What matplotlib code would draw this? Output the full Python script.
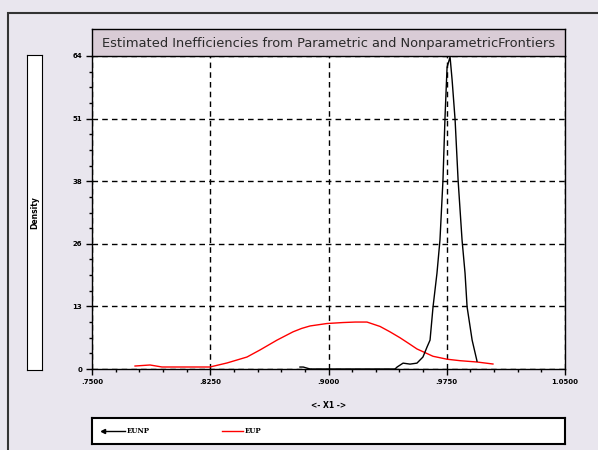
import matplotlib
matplotlib.use("Agg")
import matplotlib.pyplot as plt
from matplotlib.patches import Rectangle
import numpy as np

# EUP (parametric) kernel density
eup_x = [0.7773, 0.7868, 0.7944, 0.8248, 0.8356, 0.8483, 0.8566, 0.8673, 0.8775,
         0.8830, 0.8883, 0.8990, 0.9092, 0.9170, 0.9244, 0.9327, 0.9390, 0.9453,
         0.9510, 0.9561, 0.9663, 0.9752, 0.9834, 0.9942, 1.0043]
eup_y = [0.61, 0.82, 0.41, 0.41, 1.23, 2.45, 3.9, 5.9, 7.6,
         8.3, 8.8, 9.3, 9.5, 9.6, 9.6, 8.7, 7.6, 6.4,
         5.2, 4.1, 2.6, 2.0, 1.7, 1.43, 1.02]

# EUNP (nonparametric) kernel density
eunp_x = [0.8819, 0.8840, 0.8883, 0.9000, 0.9200, 0.9422, 0.9435, 0.9473, 0.9517,
          0.9561, 0.9599, 0.9625, 0.9644, 0.9663, 0.9688, 0.9707, 0.9726, 0.9739,
          0.9752, 0.9771, 0.9784, 0.9803, 0.9822, 0.9847, 0.9866, 0.9879, 0.9911,
          0.9942]
eunp_y = [0.4, 0.4, 0.0, 0.0, 0.0, 0.0, 0.4, 1.2, 1.0,
          1.2, 2.45, 4.5, 5.9, 12.7, 19.6, 26.4, 38.6, 51.5,
          61.7, 63.8, 59.1, 50.9, 38.6, 26.4, 19.6, 12.7, 5.9,
          1.6]

x_ticks = [0.75, 0.825, 0.90, 0.975, 1.05]
x_labels = [".7500", ".8250", ".9000", ".9750", "1.0500"]
y_ticks = [0, 12.8, 25.6, 38.4, 51.2, 64]
y_labels = ["0", "13", "26", "38", "51", "64"]

bg = "#e9e6ee"
fig = plt.figure(figsize=(5.98, 4.5), dpi=100, facecolor=bg)

# outer frame
fig.patches.append(Rectangle((8/598, -0.05), 1.0, 0.971 + 0.05, transform=fig.transFigure,
                             fill=False, edgecolor="#333333", linewidth=1.5))

ax = fig.add_axes([92/598, 1 - 369/450, 473/598, 313/450])
ax.plot(eup_x, eup_y, color="red", linewidth=1)
ax.plot(eunp_x, eunp_y, color="black", linewidth=1)
ax.set_xlim(0.75, 1.05)
ax.set_ylim(0, 64)
ax.set_xticks(x_ticks)
ax.set_xticklabels(x_labels)
ax.set_yticks(y_ticks)
ax.set_yticklabels(y_labels)
ax.set_xticks(np.arange(0.75, 1.0501, 0.015), minor=True)
ax.set_yticks(np.arange(0, 64.01, 3.2), minor=True)
ax.tick_params(labelsize=5, length=4, width=1, pad=3)
ax.tick_params(which="minor", length=2.5, width=1)
for lab in ax.get_xticklabels() + ax.get_yticklabels():
    lab.set_fontweight("bold")
ax.grid(True, which="major", color="black", linestyle=(0, (4, 3)), linewidth=1)
for s in ax.spines.values():
    s.set_linewidth(1)
ax.spines["top"].set_visible(False)
ax.set_xlabel("<- X1 ->", fontsize=5.5, fontweight="bold", labelpad=12)

# title box
tax = fig.add_axes([92/598, 1 - 56/450, 473/598, 27/450], facecolor="#d9ccd6")
tax.set_xticks([])
tax.set_yticks([])
for s in tax.spines.values():
    s.set_linewidth(1)
tax.text(0.5, 0.45, "Estimated Inefficiencies from Parametric and NonparametricFrontiers",
         ha="center", va="center", fontsize=9.4, color="#2a2a2a", transform=tax.transAxes)

# y label box
dax = fig.add_axes([27/598, 1 - 370/450, 15/598, 315/450], facecolor="white")
dax.set_xticks([])
dax.set_yticks([])
dax.text(0.5, 0.5, "Density", rotation=90, ha="center", va="center", fontsize=5.5,
         fontweight="bold", transform=dax.transAxes)

# legend box
lax = fig.add_axes([92/598, 1 - 444/450, 473/598, 26/450], facecolor="white")
lax.set_xticks([])
lax.set_yticks([])
lax.set_xlim(0, 473)
lax.set_ylim(0, 1)
for s in lax.spines.values():
    s.set_linewidth(1.5)
lax.plot([11, 33], [0.5, 0.5], color="black", linewidth=1)
lax.plot([11], [0.5], marker="<", color="black", markersize=3)
lax.text(35, 0.5, "EUNP", fontsize=5, fontweight="bold", va="center", family="serif")
lax.plot([130, 151], [0.5, 0.5], color="red", linewidth=1)
lax.text(153, 0.5, "EUP", fontsize=5, fontweight="bold", va="center", family="serif")

fig.savefig("out.png", dpi=100, facecolor=bg)
